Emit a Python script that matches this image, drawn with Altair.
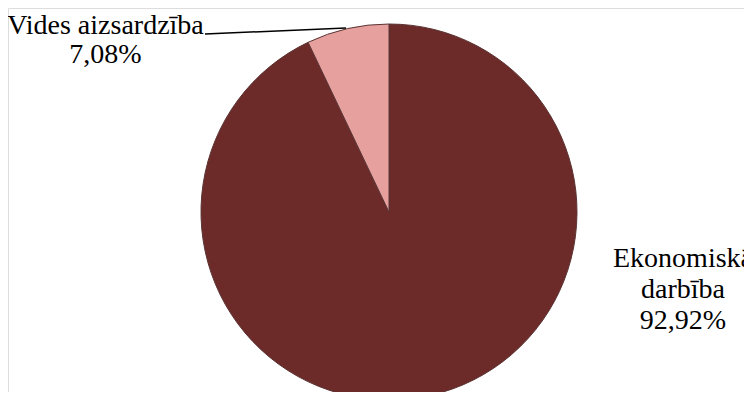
import altair as alt
import pandas as pd

categories = ["Ekonomiskā darbība", "Vides aizsardzība"]
shares = [92.92, 7.08]
label_e_lines = ["Ekonomiskā", "darbība", "92,92%"]
label_v_lines = ["Vides aizsardzība", "7,08%"]
colors = ["#6C2A29", "#E6A19F"]
order = [0, 1]

df = pd.DataFrame({"cat": categories, "share": shares, "ord": order})
lab_df = pd.DataFrame({
    "line": label_e_lines + label_v_lines,
    "grp": [0, 0, 0, 1, 1],
    "row": [0, 1, 2, 0, 1],
})

CX, CY, R = 381, 204, 188
FONT = "Liberation Serif"

layers = []
for i, line in enumerate(label_e_lines):
    layers.append(alt.Chart(lab_df).mark_text(font=FONT, fontSize=28, align="center",
                                              baseline="alphabetic", color="black").encode(
        text=alt.value(line), x=alt.value(675), y=alt.value(259 + 31 * i)
    ).transform_filter((alt.datum.grp == 0) & (alt.datum.row == i)))
for i, line in enumerate(label_v_lines):
    layers.append(alt.Chart(lab_df).mark_text(font=FONT, fontSize=28, align="center",
                                              baseline="alphabetic", color="black").encode(
        text=alt.value(line), x=alt.value(97.5), y=alt.value(26 + 29 * i)
    ).transform_filter((alt.datum.grp == 1) & (alt.datum.row == i)))

pie = alt.Chart(df).mark_arc(outerRadius=R, stroke="#5b3434", strokeWidth=1).encode(
    theta=alt.Theta("share:Q", stack=True),
    order=alt.Order("ord:Q"),
    color=alt.Color("cat:N", scale=alt.Scale(domain=categories, range=colors), legend=None),
    x=alt.value(CX), y=alt.value(CY),
)

leader = alt.Chart(df).mark_rule(color="black", strokeWidth=1.5).encode(
    x=alt.value(197), x2=alt.value(338), y=alt.value(26), y2=alt.value(20)
).transform_filter(alt.datum.ord == 1)

chart = alt.layer(*layers, pie, leader).properties(
    width=736, height=384, padding=0, autosize="none"
).configure(font=FONT)

chart.save("out.html", embed_options={"renderer": "svg", "actions": False})
